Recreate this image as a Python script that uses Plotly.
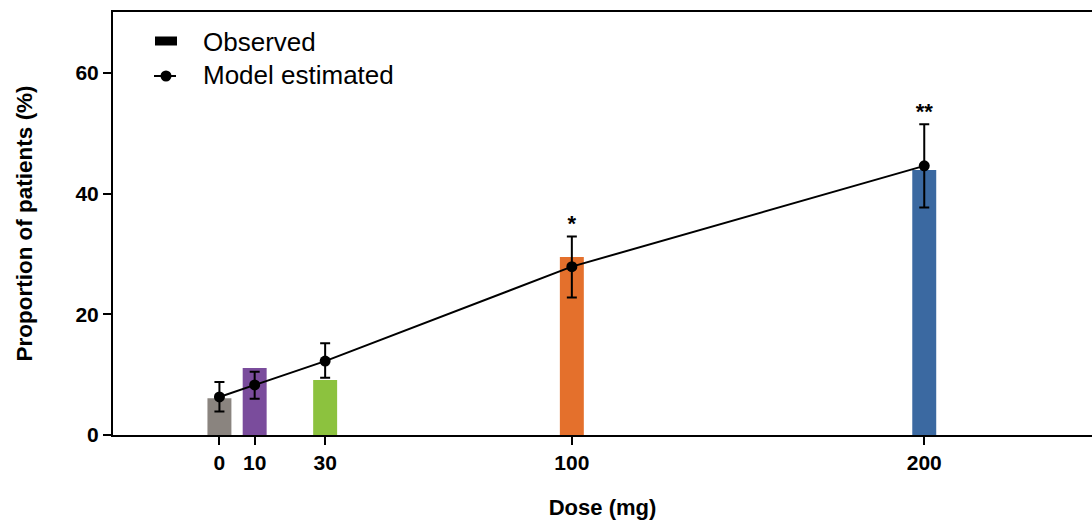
import plotly.graph_objects as go

# ---- data ----
doses = [0, 10, 30, 100, 200]
dose_labels = ["0", "10", "30", "100", "200"]
observed = [6.1, 11.1, 9.1, 29.5, 43.9]
bar_colors = ["#8a847f", "#7a4c9c", "#8cc23e", "#e4702c", "#3b69a1"]
model_est = [6.3, 8.3, 12.25, 27.9, 44.6]
model_err_plus = [2.5, 2.2, 2.95, 5.0, 6.9]
model_err_minus = [2.4, 2.3, 2.75, 5.1, 6.9]
sig_labels = ["", "", "", "*", "**"]
legend_labels = ["Observed", "Model estimated"]

FONT = "Liberation Sans, Arial, sans-serif"

# layout geometry (body margin removed via post_script)
W, H = 1092, 524
ML, MR, MT, MB = 113, 0, 12, 89
PW, PH = W - ML - MR, H - MT - MB


def px(v):
    return (v - ML) / PW


def py(v):
    return (H - MB - v) / PH


fig = go.Figure()

# observed bars
fig.add_trace(go.Bar(
    x=doses, y=observed, width=6.8,
    marker=dict(color=bar_colors, line=dict(width=0)),
    showlegend=False, hoverinfo="skip",
))
# model estimated line with error bars
fig.add_trace(go.Scatter(
    x=doses, y=model_est, name="Model estimated",
    mode="lines+markers",
    line=dict(color="black", width=2),
    marker=dict(color="black", size=11),
    error_y=dict(type="data", symmetric=False, array=model_err_plus,
                 arrayminus=model_err_minus, color="black",
                 thickness=2, width=5),
    showlegend=False,
))
# significance marks
sig_y = [m + p for m, p in zip(model_est, model_err_plus)]
fig.add_trace(go.Scatter(
    x=doses, y=sig_y, mode="text", text=sig_labels,
    textposition="top center",
    textfont=dict(family=FONT, size=22, color="black", weight="bold"),
    showlegend=False, hoverinfo="skip",
))

# ---- legend (drawn manually) ----
shapes = [
    dict(type="rect", xref="paper", yref="paper",
         x0=px(155), x1=px(177), y0=py(45.5), y1=py(36.5),
         fillcolor="black", line=dict(width=0)),
    dict(type="line", xref="paper", yref="paper",
         x0=px(154), x1=px(176), y0=py(76), y1=py(76),
         line=dict(color="black", width=2)),
    dict(type="circle", xref="paper", yref="paper",
         x0=px(166 - 5.5), x1=px(166 + 5.5), y0=py(76 + 5.5), y1=py(76 - 5.5),
         fillcolor="black", line=dict(width=0)),
]
annotations = [
    dict(xref="paper", yref="paper", x=px(201), y=py(yy), xanchor="left",
         yanchor="middle", text=t, showarrow=False,
         font=dict(family=FONT, size=26, color="black"))
    for t, yy in zip(legend_labels, [42, 75])
]

fig.update_layout(
    width=W, height=H,
    margin=dict(l=ML, r=MR, t=MT, b=MB),
    paper_bgcolor="white", plot_bgcolor="white",
    font=dict(family=FONT, color="black"),
    barmode="overlay",
    showlegend=False,
    hovermode=False,
    shapes=shapes,
    annotations=annotations,
    xaxis=dict(
        range=[-30.2, 247.6],
        tickvals=doses, ticktext=dose_labels,
        showline=True, linecolor="black", linewidth=2, mirror=True,
        ticks="outside", ticklen=8, tickwidth=2, tickcolor="black",
        tickfont=dict(family=FONT, size=21, color="black", weight="bold"),
        showgrid=False, zeroline=False,
        title=dict(text="<b>Dose (mg)</b>", font=dict(family=FONT, size=22), standoff=26),
    ),
    yaxis=dict(
        range=[0, 70.1],
        tickvals=[0, 20, 40, 60],
        showline=True, linecolor="black", linewidth=2,
        ticks="outside", ticklen=8, tickwidth=2, tickcolor="black",
        tickfont=dict(family=FONT, size=21, color="black", weight="bold"),
        showgrid=False, zeroline=False,
        title=dict(text="<b>Proportion of patients (%)</b>", font=dict(family=FONT, size=22.5), standoff=37),
    ),
)

fig.write_html(
    "out.html",
    config={"displayModeBar": False},
    post_script="document.body.style.margin='0';document.body.style.overflow='hidden';",
)
